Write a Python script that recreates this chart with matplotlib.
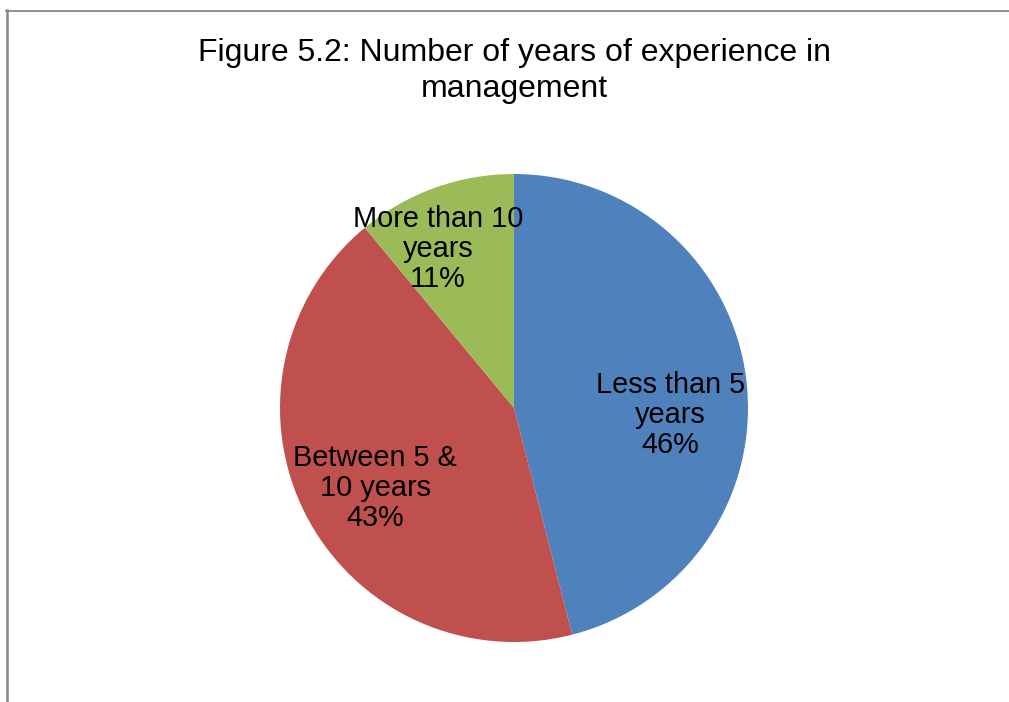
import matplotlib
matplotlib.use("Agg")
import matplotlib.pyplot as plt
from matplotlib.lines import Line2D
import numpy as np

plt.rcParams['font.family'] = ['Liberation Sans', 'DejaVu Sans']

categories = ["Less than 5\nyears", "Between 5 &\n10 years", "More than 10\nyears"]
shares = [46, 43, 11]
colors = ["#4F81BD", "#C0504D", "#9BBB59"]
title = "Figure 5.2: Number of years of experience in\nmanagement"

W, H = 1009, 702
fig = plt.figure(figsize=(W / 100, H / 100), dpi=100)
fig.patch.set_facecolor("white")

cx, cy, r = 514, 408, 234
ax = fig.add_axes([(cx - r) / W, (H - cy - r) / H, 2 * r / W, 2 * r / H])
wedges, _ = ax.pie(shares, colors=colors, startangle=90, counterclock=False,
                   radius=1.0, wedgeprops=dict(linewidth=0))
ax.set_xlim(-1, 1)
ax.set_ylim(-1, 1)
ax.set_aspect("equal")
ax.axis("off")

# label placement (radial distance, angle tweak in degrees) per slice
label_pos = [(0.668, -9.8), (0.685, 2.9), (0.753, 5.8)]
for w, cat, val, (dist, dang) in zip(wedges, categories, shares, label_pos):
    ang = np.deg2rad((w.theta1 + w.theta2) / 2 + dang)
    ax.text(dist * np.cos(ang), dist * np.sin(ang), f"{cat}\n{val}%",
            ha="center", va="center", fontsize=20.8, color="black",
            linespacing=1.1)

fig.text(514 / W, 1 - 71 / H, title, ha="center", va="center",
         fontsize=23, linespacing=1.28)

# chart border (left and top)
fig.add_artist(Line2D([7 / W, 7 / W], [0, 1 - 10 / H], transform=fig.transFigure,
                      color="#878787", linewidth=1.8))
fig.add_artist(Line2D([6 / W, 1.0], [1 - 10.5 / H, 1 - 10.5 / H], transform=fig.transFigure,
                      color="#878787", linewidth=1.3))

fig.savefig("out.png", dpi=100, facecolor="white")
